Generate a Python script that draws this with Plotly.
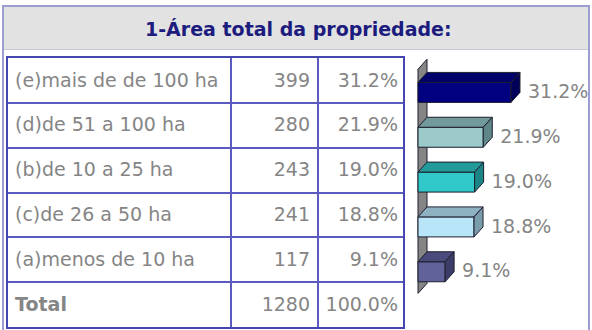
import plotly.graph_objects as go

# ---- data ----
title_text = "1-Área total da propriedade:"
categories = ["(e)mais de de 100 ha", "(d)de 51 a 100 ha", "(b)de 10 a 25 ha",
              "(c)de 26 a 50 ha", "(a)menos de 10 ha"]
counts = [399, 280, 243, 241, 117]
percents = [31.2, 21.9, 19.0, 18.8, 9.1]
total_label = "Total"
total_count = 1280
total_percent = 100.0

# ---- styles ----
front_colors = ["#000080", "#9cc9c9", "#30c8c8", "#b8e6f8", "#62629a"]
top_colors = ["#00006a", "#729a9a", "#229a9a", "#8eb2c2", "#4a4a7c"]
side_colors = ["#00005a", "#5f8787", "#1b8585", "#7a9cab", "#3c3c68"]
edge_color = "#1e1e2e"
text_gray = "#858585"
grid_color = "#5a5ac0"
FONT = "DejaVu Sans"

W, H = 592, 330
def fx(p):
    return p / W
def fy(p):
    return 1 - p / H

n = len(categories)
rows = n + 1
TABLE_LEFT, TABLE_RIGHT = 8, 403
TABLE_TOP, TABLE_BOTTOM = 58, 327
col_w = [223, 87, 85]
tw = TABLE_RIGHT - TABLE_LEFT

fig = go.Figure()

# ---- table as text on its own axes ----
row_y = [i + 0.53 for i in range(rows)]
col1 = categories + ["<b>" + total_label + "</b>"]
col2 = [str(c) for c in counts] + [str(total_count)]
col3 = [f"{p:.1f}%" for p in percents] + [f"{total_percent:.1f}%"]
tfont = dict(family=FONT, size=19, color=text_gray)
fig.add_trace(go.Scatter(x=[7] * rows, y=row_y, text=col1, mode="text",
                         textposition="middle right", textfont=tfont,
                         xaxis="x2", yaxis="y2", hoverinfo="skip", showlegend=False))
fig.add_trace(go.Scatter(x=[col_w[0] + col_w[1] - 8] * rows, y=row_y, text=col2, mode="text",
                         textposition="middle left", textfont=tfont,
                         xaxis="x2", yaxis="y2", hoverinfo="skip", showlegend=False))
fig.add_trace(go.Scatter(x=[tw - 5] * rows, y=row_y, text=col3, mode="text",
                         textposition="middle left", textfont=tfont,
                         xaxis="x2", yaxis="y2", hoverinfo="skip", showlegend=False))

# ---- 3D bars ----
PX_PER_PCT = 2.98
ZERO_PX = 418
row_px = (TABLE_BOTTOM - TABLE_TOP) / rows
dx = 9 / PX_PER_PCT          # depth in % units
dy = 10 / row_px             # depth in row units
bh = 20 / row_px             # bar front height
shift = 12 / row_px          # bar centre below row centre

# back wall
wt, wb = 0.25, n + 0.25
fig.add_trace(go.Scatter(
    x=[0, 0, dx, dx, 0], y=[wt, wb, wb - dy, wt - dy, wt],
    mode="lines", fill="toself", fillcolor="#858585",
    line=dict(color=edge_color, width=1), xaxis="x3", yaxis="y3",
    hoverinfo="skip", showlegend=False))

for i, v in enumerate(percents):
    c = i + 0.5 + shift
    t, b = c - bh / 2, c + bh / 2
    faces = [
        ([0, v, v, 0, 0], [t, t, b, b, t], front_colors[i]),
        ([0, v, v + dx, dx, 0], [t, t, t - dy, t - dy, t], top_colors[i]),
        ([v, v, v + dx, v + dx, v], [t, b, b - dy, t - dy, t], side_colors[i]),
    ]
    for xs, ys, col in faces:
        fig.add_trace(go.Scatter(x=xs, y=ys, mode="lines", fill="toself",
                                 fillcolor=col, line=dict(color=edge_color, width=1),
                                 xaxis="x3", yaxis="y3", hoverinfo="skip",
                                 showlegend=False))

fig.add_trace(go.Scatter(
    x=[v + dx + 8 / PX_PER_PCT for v in percents],
    y=[i + 0.5 + shift + 0.02 for i in range(n)],
    text=[f"{p:.1f}%" for p in percents], mode="text",
    textposition="middle right", textfont=tfont,
    xaxis="x3", yaxis="y3", hoverinfo="skip", showlegend=False))

# ---- layout ----
noax = dict(showgrid=False, zeroline=False, showticklabels=False, ticks="",
            showline=False, fixedrange=True)
tab_dom_y = [fy(TABLE_BOTTOM), fy(TABLE_TOP)]
fig.update_layout(
    width=W, height=H, margin=dict(l=0, r=0, t=0, b=0),
    paper_bgcolor="white", plot_bgcolor="rgba(0,0,0,0)",
    xaxis=dict(visible=False, domain=[0, 1]),
    yaxis=dict(visible=False, domain=[0, 1]),
    xaxis2=dict(domain=[fx(TABLE_LEFT), fx(TABLE_RIGHT)], range=[0, tw], anchor="y2",
                showgrid=True, gridcolor=grid_color, gridwidth=1.5,
                tickvals=[col_w[0], col_w[0] + col_w[1]], showticklabels=False,
                ticks="", zeroline=False, showline=True, mirror=True,
                linecolor="#4646b0", linewidth=2, fixedrange=True),
    yaxis2=dict(domain=tab_dom_y, range=[rows, 0], anchor="x2",
                showgrid=True, gridcolor=grid_color, gridwidth=1.5,
                tickvals=list(range(1, rows)), showticklabels=False,
                ticks="", zeroline=False, showline=True, mirror=True,
                linecolor="#4646b0", linewidth=2, fixedrange=True),
    xaxis3=dict(domain=[fx(TABLE_RIGHT + 2), 1], anchor="y3",
                range=[(TABLE_RIGHT + 2 - ZERO_PX) / PX_PER_PCT, (W - ZERO_PX) / PX_PER_PCT],
                **noax),
    yaxis3=dict(domain=tab_dom_y, range=[rows, 0], anchor="x3", **noax),
    shapes=[
        dict(type="rect", xref="paper", yref="paper", x0=fx(3), x1=fx(589),
             y0=fy(6), y1=fy(49), fillcolor="#e2e2e2", line=dict(width=0), layer="below"),
        dict(type="line", xref="paper", yref="paper", x0=fx(3), x1=fx(589),
             y0=fy(49.5), y1=fy(49.5), line=dict(color="#c9c9d6", width=1)),
        dict(type="rect", xref="paper", yref="paper", x0=fx(3), x1=fx(589),
             y0=fy(331), y1=fy(6), line=dict(color="#9d9dd2", width=2)),
    ],
    annotations=[
        dict(text="<b>" + title_text + "</b>", xref="paper", yref="paper",
             x=fx(298), y=fy(29), showarrow=False, xanchor="center", yanchor="middle",
             font=dict(family=FONT, size=19, color="#1c1c7e")),
    ],
)

fig.write_html("out.html")
